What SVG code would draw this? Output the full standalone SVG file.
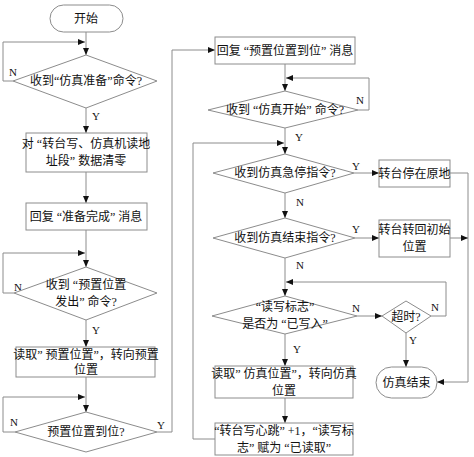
<svg xmlns="http://www.w3.org/2000/svg" width="474" height="457" viewBox="0 0 474 457">
<defs>
<marker id="ah" markerWidth="8" markerHeight="8" refX="7" refY="4" orient="auto" markerUnits="userSpaceOnUse">
<path d="M0,1 L7,4 L0,7 Z" fill="#111"/>
</marker>
<style>
.s{fill:#fff;stroke:#8c8c8c;stroke-width:1}
.c{fill:none;stroke:#8c8c8c;stroke-width:1;marker-end:url(#ah)}
.l{fill:none;stroke:#8c8c8c;stroke-width:1}
.t{font-family:"Liberation Serif","Noto Sans CJK SC",serif;font-size:12px;fill:#111;text-anchor:middle;dominant-baseline:central}
.y{font-family:"Liberation Serif",serif;font-size:11px;fill:#111;text-anchor:middle;dominant-baseline:central}
</style>
</defs>
<rect width="474" height="457" fill="#fff"/>
<g id="connectors">
<line class="c" x1="86" y1="32" x2="86" y2="55"/>
<path class="c" d="M13,81 H3 V42 H85"/>
<line class="c" x1="86" y1="108" x2="86" y2="133"/>
<line class="c" x1="86" y1="172" x2="86" y2="203"/>
<line class="c" x1="86" y1="230" x2="86" y2="267"/>
<path class="c" d="M14,293 H3 V253 H85"/>
<line class="c" x1="86" y1="320" x2="86" y2="347"/>
<line class="c" x1="86" y1="377" x2="86" y2="412"/>
<path class="c" d="M15,432 H3 V397 H85"/>
<path class="c" d="M157,432 H172 V50 H215"/>
<line class="c" x1="285" y1="64" x2="285" y2="91"/>
<path class="c" d="M358,110 H369 V78 H286"/>
<line class="c" x1="285" y1="128" x2="285" y2="154"/>
<path class="c" d="M215,439 H193 V143 H284"/>
<line class="c" x1="354" y1="173" x2="379" y2="173"/>
<line class="c" x1="285" y1="193" x2="285" y2="218"/>
<line class="c" x1="355" y1="238" x2="379" y2="238"/>
<line class="c" x1="285" y1="258" x2="285" y2="296"/>
<path class="c" d="M431,316 H446 V282 H286"/>
<line class="c" x1="357" y1="316" x2="382" y2="316"/>
<line class="c" x1="285" y1="334" x2="285" y2="366"/>
<line class="c" x1="285" y1="398" x2="285" y2="423"/>
<line class="c" x1="406" y1="333" x2="406" y2="367"/>
<path class="c" d="M450,173 H468 V382 H437"/>
<line class="c" x1="450" y1="238" x2="468" y2="238"/>
</g>
<g id="labels">
<text class="y" x="13" y="72">N</text>
<text class="y" x="96" y="116">Y</text>
<text class="y" x="18" y="287">N</text>
<text class="y" x="96" y="330">Y</text>
<text class="y" x="14" y="422">N</text>
<text class="y" x="161" y="425">Y</text>
<text class="y" x="360" y="100">N</text>
<text class="y" x="299" y="137">Y</text>
<text class="y" x="356" y="166">Y</text>
<text class="y" x="300" y="202">N</text>
<text class="y" x="356" y="229">Y</text>
<text class="y" x="300" y="265">N</text>
<text class="y" x="356" y="308">N</text>
<text class="y" x="297" y="349">Y</text>
<text class="y" x="435" y="307">N</text>
<text class="y" x="413" y="340">Y</text>
</g>
<g id="start">
<rect class="s" x="50" y="5" width="73" height="27" rx="13.5"/>
<text class="t" x="86" y="18.5">开始</text>
</g>
<g id="d1">
<polygon class="s" points="86,55 157,81 86,108 13,81"/>
<text class="t" x="86" y="81">收到“仿真准备”命令?</text>
</g>
<g id="b1">
<rect class="s" x="26" y="133" width="121" height="39"/>
<text class="t" x="86" y="144">对 “转台写、仿真机读地</text>
<text class="t" x="86" y="161">址段” 数据清零</text>
</g>
<g id="b2">
<rect class="s" x="26" y="203" width="121" height="27"/>
<text class="t" x="86" y="216.5">回复 “准备完成” 消息</text>
</g>
<g id="d2">
<polygon class="s" points="86,267 157,293 86,320 14,293"/>
<text class="t" x="86" y="285">收到 “预置位置</text>
<text class="t" x="86" y="302">发出” 命令?</text>
</g>
<g id="b3">
<rect class="s" x="16" y="347" width="139" height="30"/>
<text class="t" x="86" y="355">读取” 预置位置”，转向预置</text>
<text class="t" x="86" y="370">位置</text>
</g>
<g id="d3">
<polygon class="s" points="86,412 157,432 86,452 15,432"/>
<text class="t" x="86" y="432">预置位置到位?</text>
</g>
<g id="b4">
<rect class="s" x="215" y="37" width="140" height="27"/>
<text class="t" x="285" y="50.5">回复 “预置位置到位” 消息</text>
</g>
<g id="d4">
<polygon class="s" points="285,91 358,110 285,128 208,110"/>
<text class="t" x="285" y="110">收到 “仿真开始” 命令?</text>
</g>
<g id="d5">
<polygon class="s" points="285,154 354,173 285,193 213,173"/>
<text class="t" x="285" y="173">收到仿真急停指令?</text>
</g>
<g id="b5">
<rect class="s" x="379" y="160" width="71" height="27"/>
<text class="t" x="414.5" y="173.5">转台停在原地</text>
</g>
<g id="d6">
<polygon class="s" points="285,218 355,238 285,258 213,238"/>
<text class="t" x="285" y="238">收到仿真结束指令?</text>
</g>
<g id="b6">
<rect class="s" x="379" y="220" width="71" height="37"/>
<text class="t" x="414.5" y="230">转台转回初始</text>
<text class="t" x="414.5" y="247">位置</text>
</g>
<g id="d7">
<polygon class="s" points="285,296 357,316 285,334 212,316"/>
<text class="t" x="285" y="307">“读写标志”</text>
<text class="t" x="285" y="324">是否为 “已写入”</text>
</g>
<g id="d8">
<polygon class="s" points="406,301 431,316 406,333 382,316"/>
<text class="t" x="406" y="317">超时?</text>
</g>
<g id="b7">
<rect class="s" x="215" y="366" width="138" height="32"/>
<text class="t" x="284" y="374">读取” 仿真位置”，转向仿真</text>
<text class="t" x="284" y="391">位置</text>
</g>
<g id="b8">
<rect class="s" x="215" y="423" width="138" height="32"/>
<text class="t" x="284" y="431">“转台写心跳” +1，“读写标</text>
<text class="t" x="284" y="448">志” 赋为 “已读取”</text>
</g>
<g id="end">
<rect class="s" x="376" y="367" width="61" height="31" rx="15.5"/>
<text class="t" x="406.5" y="382.5">仿真结束</text>
</g>
</svg>
